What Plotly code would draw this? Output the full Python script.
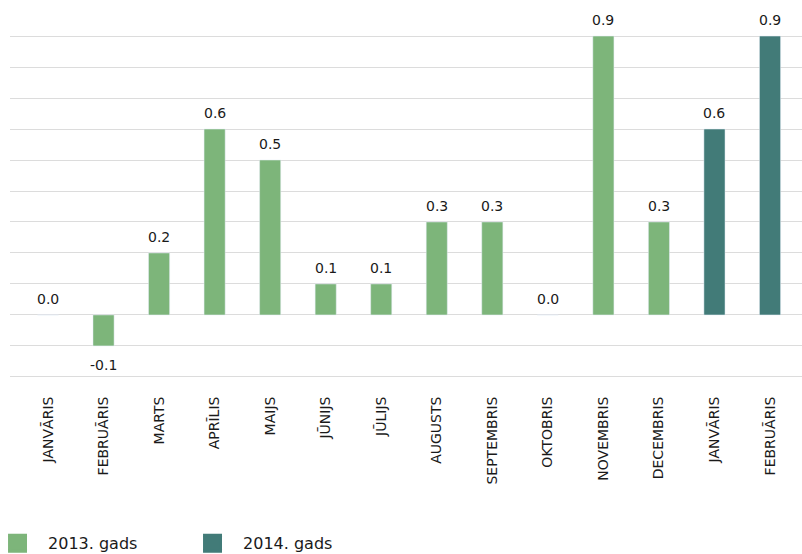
import plotly.graph_objects as go

labels = ["JANVĀRIS", "FEBRUĀRIS", "MARTS", "APRĪLIS", "MAIJS", "JŪNIJS", "JŪLIJS",
          "AUGUSTS", "SEPTEMBRIS", "OKTOBRIS", "NOVEMBRIS", "DECEMBRIS", "JANVĀRIS", "FEBRUĀRIS"]
vals_2013 = [0.0, -0.1, 0.2, 0.6, 0.5, 0.1, 0.1, 0.3, 0.3, 0.0, 0.9, 0.3]
vals_2014 = [0.6, 0.9]
name_2013 = "2013. gads"
name_2014 = "2014. gads"
c2013 = "#7DB57A"
c2014 = "#427B78"

x2013 = list(range(len(vals_2013)))
x2014 = list(range(len(vals_2013), len(vals_2013) + len(vals_2014)))

font = "DejaVu Sans, Verdana, sans-serif"
fig = go.Figure()
for xs, vs, col, nm in [(x2013, vals_2013, c2013, name_2013), (x2014, vals_2014, c2014, name_2014)]:
    fig.add_trace(go.Bar(x=xs, y=vs, marker_color=col, width=0.38, showlegend=False,
                         cliponaxis=False, name=nm))
    fig.add_trace(go.Scatter(x=[None], y=[None], mode="markers", name=nm,
                             marker=dict(symbol="square", size=16, color=col,
                                         line=dict(color=col, width=3))))
    for x, v in zip(xs, vs):
        fig.add_annotation(x=x, y=v, text=f"{v:.1f}", showarrow=False,
                           yanchor="bottom" if v >= 0 else "top",
                           yshift=6 if v >= 0 else -9,
                           font=dict(size=14, color="#1a1a1a", family=font))

fig.update_layout(
    width=802, height=554, margin=dict(l=10, r=0, t=35, b=176, autoexpand=False),
    plot_bgcolor="white", paper_bgcolor="white",
    font=dict(family=font, color="#1a1a1a"),
    barmode="overlay",
    legend=dict(orientation="h", x=-0.029, xanchor="left", y=-0.482, yanchor="middle",
                font=dict(size=16, color="#1a1a1a"), itemwidth=51,
                entrywidth=129, entrywidthmode="pixels", itemclick=False),
    xaxis=dict(range=[-0.684, 13.576], tickmode="array", tickvals=list(range(len(labels))),
               ticktext=labels, tickangle=-90, showgrid=False, zeroline=False, showline=False,
               ticks="outside", ticklen=12, tickcolor="rgba(0,0,0,0)", automargin=False,
               tickfont=dict(size=14, color="#1a1a1a")),
    yaxis=dict(range=[-0.2035, 0.9035], dtick=0.1, tick0=0, showgrid=True, gridcolor="#dcdcdc",
               gridwidth=1, zeroline=False, showticklabels=False, showline=False, automargin=False),
)
fig.write_html("out.html")
